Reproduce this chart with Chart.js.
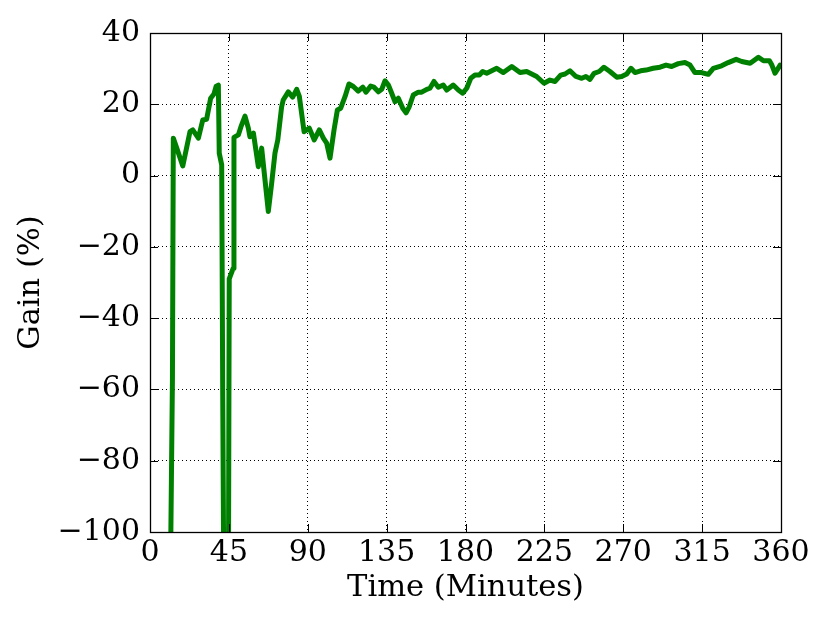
<!DOCTYPE html>
<html>
<head>
<meta charset="utf-8">
<script src="https://cdn.jsdelivr.net/npm/chart.js@4.4.1/dist/chart.umd.min.js"></script>
<style>
  html, body { margin: 0; padding: 0; background: #fff; }
  #wrap { position: relative; width: 830px; height: 623px; }
</style>
</head>
<body>
<div id="wrap"><canvas id="gain" width="830" height="623"></canvas></div>
<script>
// minutes since start
const minutes = [
  11.8, 12.8, 13.3, 15.6, 18.7, 22.8, 24.4, 27.6, 30.1, 32.3, 34.6, 36.5, 37.7, 39.0, 39.5,
  40.9, 41.5, 42.0, 44.8, 45.2, 47.5, 47.9, 50.4, 51.9, 54.2, 56.1, 57.0, 59.0, 61.8, 63.7,
  67.5, 69.4, 71.3, 72.9, 75.1, 76.0, 78.9, 81.4, 83.7, 85.2, 87.9, 90.9, 93.7, 96.6, 98.9,
  100.8, 102.7, 105.0, 106.9, 108.8, 111.3, 113.5, 116.0, 118.8, 121.4, 123.2, 125.9, 127.8, 130.3, 132.2,
  134.1, 136.0, 137.9, 139.8, 141.7, 144.2, 146.1, 147.9, 150.2, 153.1, 155.0, 157.9, 159.7, 162.0, 164.5,
  167.3, 169.3, 173.0, 175.9, 178.4, 180.7, 183.0, 185.4, 187.9, 189.8, 192.1, 197.8, 201.6, 206.4, 211.1,
  214.9, 220.6, 224.8, 228.2, 231.1, 234.3, 236.8, 239.6, 243.0, 246.3, 248.7, 251.0, 253.3, 256.3, 259.0,
  262.4, 266.3, 269.1, 272.0, 274.4, 276.7, 279.9, 283.0, 287.1, 291.0, 294.4, 297.6, 301.4, 305.2, 308.1,
  310.9, 314.7, 318.5, 321.4, 326.1, 329.9, 334.4, 337.6, 342.4, 347.1, 350.0, 353.4, 354.8, 356.6, 359.5
];
// gain in percent
const gain = [
  -105, -57, 10.5, 7.2, 2.7, 12.3, 12.8, 10.5, 15.6, 15.8, 21.7, 22.9, 25.0, 25.4, 6.3,
  3.0, -62, -105, -105, -29, -26, 10.7, 11.4, 13.7, 16.7, 13.3, 10.9, 11.9, 2.5, 7.7,
  -10.1, -2.2, 6.3, 10.0, 19.3, 21.2, 23.5, 22.0, 24.2, 22.2, 12.3, 13.3, 10.0, 12.8, 10.5,
  9.1, 4.9, 12.8, 18.4, 18.9, 22.2, 25.7, 25.0, 23.7, 24.8, 23.4, 25.1, 24.8, 23.5, 24.2,
  26.6, 25.4, 23.1, 20.7, 21.7, 18.9, 17.6, 19.3, 22.6, 23.4, 23.4, 24.2, 24.5, 26.4, 24.8,
  25.4, 24.0, 25.4, 24.0, 23.1, 24.5, 27.3, 28.2, 28.2, 29.2, 28.7, 30.1, 28.9, 30.6, 28.9,
  29.2, 27.8, 25.9, 26.8, 26.4, 28.2, 28.5, 29.4, 27.8, 27.3, 27.8, 27.0, 28.7, 29.2, 30.4,
  29.2, 27.6, 27.8, 28.5, 30.1, 28.9, 29.4, 29.6, 30.1, 30.4, 31.0, 30.6, 31.4, 31.7, 31.0,
  28.9, 28.9, 28.4, 30.1, 30.8, 31.7, 32.6, 32.0, 31.5, 33.2, 32.2, 32.2, 31.0, 28.7, 31.0
];
const xTicks = [0, 45, 90, 135, 180, 225, 270, 315, 360];
const yTicks = [-100, -80, -60, -40, -20, 0, 20, 40];

const FONT = "'DejaVu Serif', 'Liberation Serif', serif";

// frame + inward ticks on all four sides, like the classic matplotlib look
const framePlugin = {
  id: 'frame',
  afterDatasetsDraw(chart) {
    const {ctx, chartArea: a, scales} = chart;
    ctx.save();
    ctx.strokeStyle = '#000';
    ctx.lineWidth = 1;
    ctx.beginPath();
    xTicks.forEach(v => {
      const px = Math.round(scales.x.getPixelForValue(v)) + 0.5;
      ctx.moveTo(px, a.bottom); ctx.lineTo(px, a.bottom - 8);
      ctx.moveTo(px, a.top); ctx.lineTo(px, a.top + 8);
    });
    yTicks.forEach(v => {
      const py = Math.round(scales.y.getPixelForValue(v)) + 0.5;
      ctx.moveTo(a.left, py); ctx.lineTo(a.left + 8, py);
      ctx.moveTo(a.right, py); ctx.lineTo(a.right - 8, py);
    });
    ctx.stroke();
    ctx.lineWidth = 1.3;
    ctx.strokeRect(Math.round(a.left) + 0.5, Math.round(a.top) + 0.5,
      Math.round(a.right - a.left), Math.round(a.bottom - a.top));
    ctx.restore();
  }
};

const points = minutes.map((m, i) => ({x: m, y: gain[i]}));

new Chart(document.getElementById('gain'), {
  type: 'line',
  data: {
    datasets: [{
      data: points,
      borderColor: '#008000',
      borderWidth: 5,
      pointRadius: 0,
      tension: 0,
      borderJoinStyle: 'round',
      borderCapStyle: 'round',
      clip: 0
    }]
  },
  options: {
    responsive: false,
    animation: false,
    layout: {padding: {top: 33, right: 49, left: 0, bottom: 0}},
    plugins: {legend: {display: false}, tooltip: {enabled: false}},
    scales: {
      x: {
        type: 'linear',
        min: 0, max: 360,
        afterBuildTicks: s => { s.ticks = xTicks.map(v => ({value: v})); },
        afterFit: s => { s.height = 91; },
        ticks: {color: '#000', padding: 3, maxRotation: 0, font: {family: FONT, size: 30}},
        grid: {color: '#000', lineWidth: 1, drawTicks: false},
        border: {display: false, dash: [1, 3]},
        title: {display: true, text: 'Time (Minutes)', color: '#000',
          font: {family: FONT, size: 30.5}, padding: {top: 0, bottom: 17}}
      },
      y: {
        min: -100, max: 40,
        afterBuildTicks: s => { s.ticks = yTicks.map(v => ({value: v})); },
        afterFit: s => { s.width = 150; },
        ticks: {color: '#000', padding: 10, font: {family: FONT, size: 30},
          callback: v => String(v).replace('-', '\u2212')},
        grid: {color: '#000', lineWidth: 1, drawTicks: false},
        border: {display: false, dash: [1, 3]},
        title: {display: true, text: 'Gain (%)', color: '#000',
          font: {family: FONT, size: 30.5}, padding: {top: 13, bottom: 0}}
      }
    }
  },
  plugins: [framePlugin]
});
</script>
</body>
</html>
